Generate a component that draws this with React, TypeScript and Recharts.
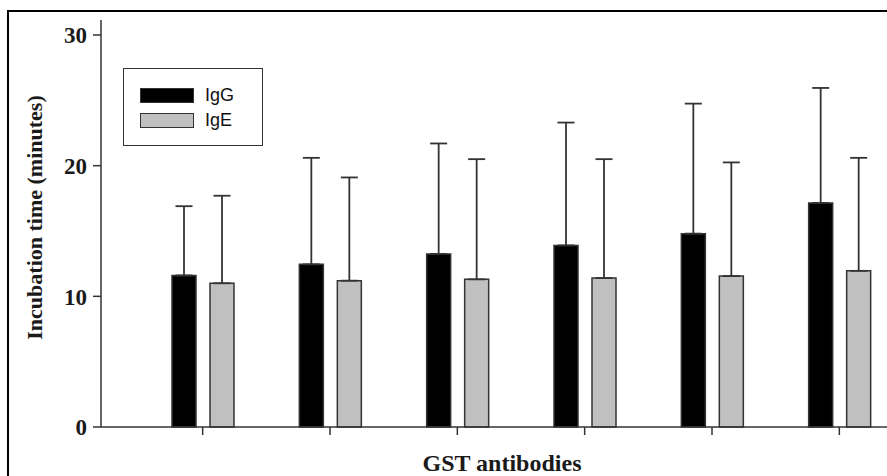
import { BarChart, Bar, XAxis, YAxis, ErrorBar, Legend, Label } from 'recharts'

const CATEGORIES = ['GST 1', 'GST 2', 'GST 3', 'GST 4', 'GST 5', 'GST 6']
const SERIES = ['IgG', 'IgE']
const IGG = [11.6, 12.45, 13.25, 13.9, 14.8, 17.15]
const IGG_SD = [5.3, 8.15, 8.45, 9.4, 9.95, 8.8]
const IGE = [11.0, 11.2, 11.3, 11.4, 11.55, 11.95]
const IGE_SD = [6.7, 7.9, 9.2, 9.1, 8.7, 8.65]
const Y_TICKS = [0, 10, 20, 30]

const data = CATEGORIES.map((name, i) => ({
  name,
  igg: IGG[i],
  iggErr: [0, IGG_SD[i]],
  ige: IGE[i],
  igeErr: [0, IGE_SD[i]],
}))

const SERIF = '"Liberation Serif", "Times New Roman", serif'
const SANS = '"Liberation Sans", Arial, sans-serif'
const INK = '#333'

function LegendBox({ payload }: any) {
  const items = [...(payload || [])].sort((a: any, b: any) => SERIES.indexOf(a.value) - SERIES.indexOf(b.value))
  return (
    <div style={{
      position: 'relative', width: 140, height: 78, boxSizing: 'border-box',
      border: `1.5px solid ${INK}`, background: '#fff',
    }}>
      {items.map((p: any, i: number) => (
        <div key={p.value} style={{ position: 'absolute', left: 16, top: 18 + i * 25, height: 16, display: 'flex', alignItems: 'center' }}>
          <div style={{ width: 54, height: 15, boxSizing: 'border-box', background: p.color, border: `1.5px solid ${INK}` }} />
          <span style={{ marginLeft: 11, fontFamily: SANS, fontSize: 18, color: '#111', lineHeight: '16px' }}>{p.value}</span>
        </div>
      ))}
    </div>
  )
}

// tick marks only, no labels
const NoLabel = () => null

function YTitle({ viewBox }: any) {
  const x = 34
  const y = viewBox.y + viewBox.height / 2 - 6
  return (
    <text x={x} y={y} transform={`rotate(-90 ${x} ${y})`} textAnchor="middle" dominantBaseline="central"
      style={{ fontFamily: SERIF, fontWeight: 700, fontSize: 22, fill: '#1a1a1a' }}>
      Incubation time (minutes)
    </text>
  )
}

function XTitle({ viewBox }: any) {
  return (
    <text x={viewBox.x + viewBox.width / 2} y={viewBox.y + 44} textAnchor="middle"
      style={{ fontFamily: SERIF, fontWeight: 700, fontSize: 24, fill: '#1a1a1a' }}>
      GST antibodies
    </text>
  )
}

export default function App() {
  return (
    <div style={{ position: 'absolute', left: 0, top: 0, width: 887, height: 476, overflow: 'hidden', background: '#fff' }}>
      <div style={{ position: 'absolute', left: 7, top: 10, width: 1000, height: 1000, borderLeft: '2px solid #000', borderTop: '2px solid #000' }} />
      <div style={{ position: 'absolute', left: 0, top: 0 }}>
        <BarChart width={903} height={476} data={data} margin={{ top: 20, right: 0, bottom: 0, left: 0 }}
          barSize={24} barGap={14}>
          <XAxis dataKey="name" height={49} tick={<NoLabel />} tickSize={8} padding={{ left: 38, right: 0 }}
            axisLine={{ stroke: INK, strokeWidth: 1.5 }} tickLine={{ stroke: INK, strokeWidth: 1.5 }}>
            <Label content={XTitle} />
          </XAxis>
          <YAxis width={101} domain={[0, 31.15]} ticks={Y_TICKS} interval={0} tickSize={8} tickMargin={6}
            axisLine={{ stroke: INK, strokeWidth: 1.5 }} tickLine={{ stroke: INK, strokeWidth: 1.5 }}
            tick={{ fontFamily: SERIF, fontWeight: 700, fontSize: 23, fill: '#1a1a1a' }}>
            <Label content={YTitle} />
          </YAxis>
          <Legend layout="vertical" align="center" verticalAlign="middle" content={<LegendBox />}
            wrapperStyle={{ left: 123, top: 68, width: 140, height: 78 }} />
          <Bar dataKey="igg" name="IgG" fill="#000" stroke={INK} strokeWidth={1.5} isAnimationActive={false}>
            <ErrorBar dataKey="iggErr" width={8.5} stroke={INK} strokeWidth={1.8} />
          </Bar>
          <Bar dataKey="ige" name="IgE" fill="#c0c0c0" stroke={INK} strokeWidth={1.5} isAnimationActive={false}>
            <ErrorBar dataKey="igeErr" width={8.5} stroke={INK} strokeWidth={1.8} />
          </Bar>
        </BarChart>
      </div>
    </div>
  )
}
